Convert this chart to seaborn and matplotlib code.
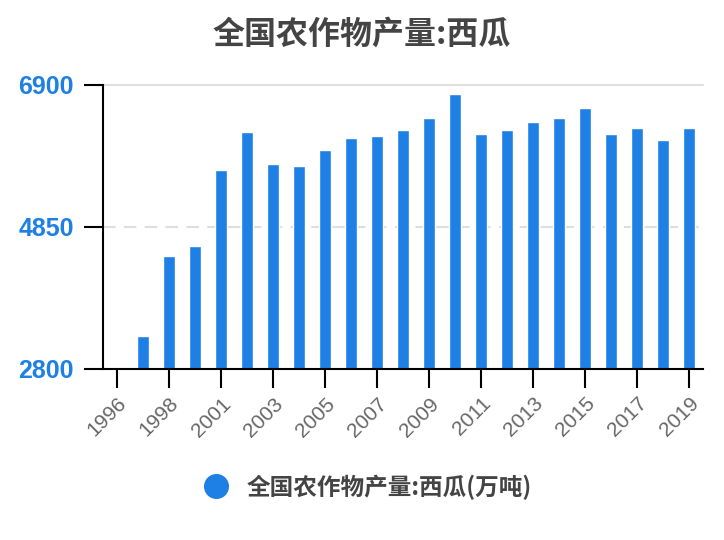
import matplotlib
matplotlib.use('Agg')
import numpy as np
import pandas as pd
import matplotlib.pyplot as plt
import seaborn as sns
from matplotlib.lines import Line2D

# data (万吨)
years = ["1996", "1997", "1998", "2000", "2001", "2002", "2003", "2004", "2005",
         "2006", "2007", "2008", "2009", "2010", "2011", "2012", "2013", "2014",
         "2015", "2016", "2017", "2018", "2019"]
output = [np.nan, 3272, 4427, 4572, 5669, 6218, 5756, 5727, 5958,
          6131, 6160, 6247, 6420, 6767, 6189, 6247, 6362, 6420,
          6565, 6189, 6276, 6102, 6276]
y_ticks = [2800, 4850, 6900]

title = "全国农作物产量:西瓜"
series_name = "全国农作物产量:西瓜(万吨)"
blue = "#1e80e4"

sns.set_style("white")
plt.rcParams['font.family'] = ['Noto Sans CJK SC', 'DejaVu Sans']

df = pd.DataFrame({"year": years, "value": output})

fig = plt.figure(figsize=(7.24, 5.4), dpi=100)
ax = fig.add_axes([103 / 724, 1 - 369 / 540, 600 / 724, 284 / 540])

sns.barplot(data=df, x="year", y="value", order=years, color=blue,
            saturation=1, width=0.46, ax=ax)

ax.set_ylim(2800, 6900)
ax.set_xlim(-0.54, len(years) - 1 + 0.54)
ax.set_yticks(y_ticks)
ax.set_yticklabels([str(t) for t in y_ticks], color=blue, fontweight="bold",
                   fontsize=18, family=["Liberation Sans", "DejaVu Sans"])
ax.set_xticks(range(0, len(years), 2))
ax.set_xticklabels(years[::2], rotation=45, ha="right", rotation_mode="anchor",
                   color="#666666", fontsize=15,
                   family=["Liberation Sans", "DejaVu Sans"])
ax.set_xlabel("")
ax.set_ylabel("")

ax.axhline(4850, color="#dedede", lw=1.5, ls=(0, (6, 4)), zorder=0)
ax.axhline(6900, color="#e0e0e0", lw=1.5, zorder=0, clip_on=False)

for s in ["top", "right"]:
    ax.spines[s].set_visible(False)
for s in ["left", "bottom"]:
    ax.spines[s].set_color("black")
    ax.spines[s].set_linewidth(1.5)
ax.tick_params(axis="y", length=14, width=1.5, color="black", pad=7, left=True)
ax.tick_params(axis="x", length=14, width=1.5, color="black", pad=4, bottom=True)

fig.text(0.5, 1 - 35 / 540, title, ha="center", va="center",
         fontsize=23, fontweight="bold", color="#444444")

handle = Line2D([], [], marker="o", ls="", color=blue, markersize=17)
fig.legend([handle], [series_name], loc="center", bbox_to_anchor=(0.5, 1 - 487 / 540),
           frameon=False, handletextpad=0.3,
           prop={"size": 17, "weight": "bold"}, labelcolor="#444444")

fig.savefig("out.png", dpi=100)
